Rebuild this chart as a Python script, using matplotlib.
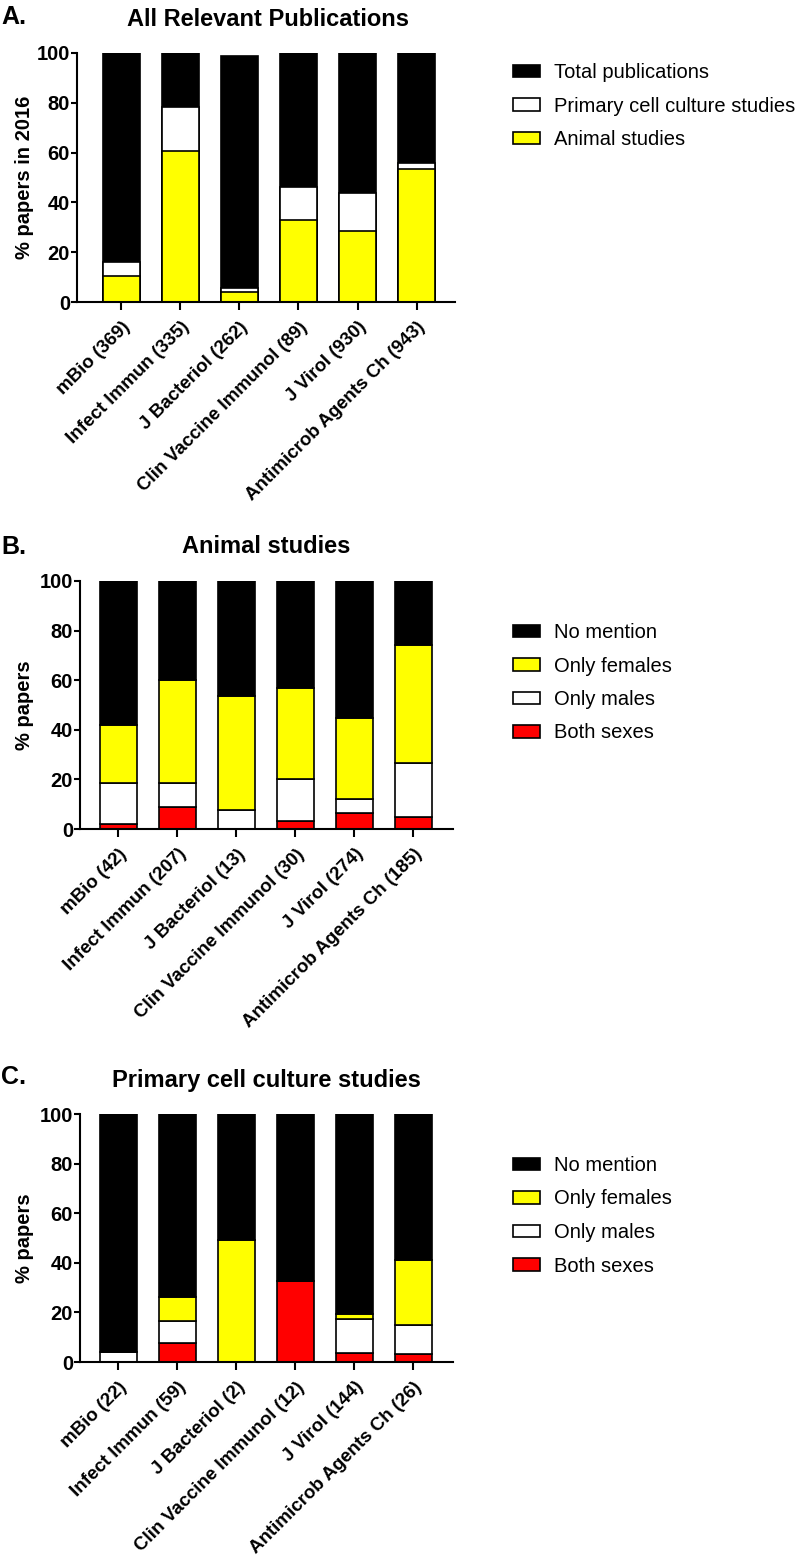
#! /usr/bin/env python3

import matplotlib
matplotlib.use("Agg")
import matplotlib.pyplot as plt
import matplotlib.transforms as mtransforms
import numpy as np

plt.rcParams["font.family"] = ["Liberation Sans", "DejaVu Sans"]

# panel A: height of each overlaid bar (% of papers in 2016)
journals_a = ["mBio (369)", "Infect Immun (335)", "J Bacteriol (262)",
              "Clin Vaccine Immunol (89)", "J Virol (930)", "Antimicrob Agents Ch (943)"]
total_pubs = [100, 100, 98.9, 100, 100, 100]
primary_cell = [16.2, 78.2, 5.8, 46.1, 43.8, 56.0]
animal = [10.6, 60.8, 3.9, 32.8, 28.5, 53.5]

# panel B: animal studies, stacked segments (%)
journals_b = ["mBio (42)", "Infect Immun (207)", "J Bacteriol (13)",
              "Clin Vaccine Immunol (30)", "J Virol (274)", "Antimicrob Agents Ch (185)"]
b_both = [2.0, 8.7, 0.0, 3.3, 6.5, 5.0]
b_males = [16.4, 9.7, 7.7, 16.7, 5.6, 21.5]
b_females = [23.5, 41.7, 46.1, 36.7, 32.5, 47.6]
b_none = [58.1, 39.9, 46.2, 43.3, 55.4, 25.9]

# panel C: primary cell culture studies, stacked segments (%)
journals_c = ["mBio (22)", "Infect Immun (59)", "J Bacteriol (2)",
              "Clin Vaccine Immunol (12)", "J Virol (144)", "Antimicrob Agents Ch (26)"]
c_both = [0.0, 7.7, 0.0, 32.5, 3.7, 3.4]
c_males = [4.0, 8.7, 0.0, 0.0, 13.6, 11.4]
c_females = [0.0, 9.8, 49.0, 0.0, 1.9, 26.4]
c_none = [96.0, 73.8, 51.0, 67.5, 80.8, 58.8]

W, H = 800, 1558
fig = plt.figure(figsize=(W / 100, H / 100), dpi=100)

BW = 0.63
EW = 1.2
LEG_FS = 14.5


def px_axes(left, top, right, bottom):
    return fig.add_axes([left / W, 1 - bottom / H, (right - left) / W, (bottom - top) / H])


def style(ax, labels, ylabel, xlim):
    x = np.arange(len(labels))
    ax.set_xlim(*xlim)
    ax.set_ylim(0, 100)
    ax.set_yticks([0, 20, 40, 60, 80, 100])
    ax.set_xticks(x)
    ax.set_xticklabels(labels, rotation=45, ha="right", rotation_mode="anchor",
                       fontsize=13.5, fontweight="bold")
    for s in ["top", "right"]:
        ax.spines[s].set_visible(False)
    for s in ["left", "bottom"]:
        ax.spines[s].set_linewidth(1.5)
    ax.tick_params(axis="y", direction="out", length=4.5, width=1.5, labelsize=14.5, pad=0.5)
    ax.tick_params(axis="x", direction="out", length=6, width=1.5, pad=6)
    for t in ax.get_yticklabels():
        t.set_fontweight("bold")
    ax.set_ylabel(ylabel, fontsize=14.5, fontweight="bold", va="center")
    tr = mtransforms.blended_transform_factory(fig.transFigure, ax.transAxes)
    ax.yaxis.set_label_coords(25 / W, 0.5, transform=tr)


def head(title, letter, xc, ytitle, yletter):
    fig.text(xc / W, 1 - ytitle / H, title, fontsize=17, fontweight="bold",
             ha="center", va="center")
    fig.text(1 / W, 1 - yletter / H, letter, fontsize=18, fontweight="bold",
             ha="left", va="center")


def legend(ax, handles, labels, ytop):
    ax.legend(handles, labels, loc="upper left", bbox_to_anchor=(513 / W, 1 - ytop / H),
              bbox_transform=fig.transFigure, frameon=False, fontsize=LEG_FS,
              handlelength=1.35, handleheight=0.6, handletextpad=0.7,
              labelspacing=0.72, borderaxespad=0, borderpad=0)


# ---- A ----
axA = px_axes(77, 53, 455, 302)
x = np.arange(len(journals_a))
axA.bar(x, total_pubs, BW, color="black", edgecolor="black", linewidth=EW, label="Total publications")
axA.bar(x, primary_cell, BW, color="white", edgecolor="black", linewidth=EW, label="Primary cell culture studies")
axA.bar(x, animal, BW, color="#ffff00", edgecolor="black", linewidth=EW, label="Animal studies")
style(axA, journals_a, "% papers in 2016", (-0.75, 5.65))
head("All Relevant Publications", "A.", 268, 20, 17)
h, l = axA.get_legend_handles_labels()
legend(axA, h, l, 63)


def stacked(ax, both, males, females, none):
    x = np.arange(len(both))
    bottom = np.zeros(len(both))
    segs = [(both, "#ff0000", "Both sexes"), (males, "white", "Only males"),
            (females, "#ffff00", "Only females"), (none, "black", "No mention")]
    for vals, col, lab in segs:
        ax.bar(x, vals, BW, bottom=bottom, color=col, edgecolor="black",
               linewidth=EW, label=lab)
        bottom = bottom + np.array(vals)


# ---- B ----
axB = px_axes(80, 581, 453, 829)
stacked(axB, b_both, b_males, b_females, b_none)
style(axB, journals_b, "% papers", (-0.65, 5.67))
head("Animal studies", "B.", 266, 547, 547)
h, l = axB.get_legend_handles_labels()
legend(axB, h[::-1], l[::-1], 623)

# ---- C ----
axC = px_axes(80, 1114, 453, 1362)
stacked(axC, c_both, c_males, c_females, c_none)
style(axC, journals_c, "% papers", (-0.65, 5.67))
head("Primary cell culture studies", "C.", 266, 1080, 1077)
h, l = axC.get_legend_handles_labels()
legend(axC, h[::-1], l[::-1], 1156)

fig.savefig("out.png", dpi=100)
